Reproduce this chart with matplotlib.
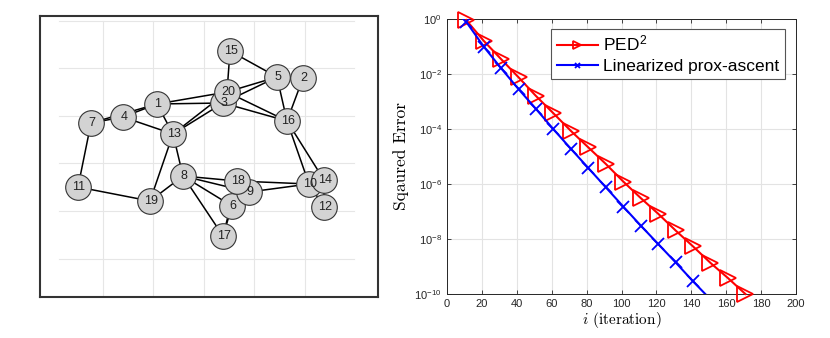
import matplotlib
matplotlib.use("Agg")
import numpy as np
from matplotlib import pyplot as plt

plt.rcParams['font.family'] = ['Liberation Sans', 'DejaVu Sans']
plt.rcParams['mathtext.fontset'] = 'custom'
plt.rcParams['mathtext.rm'] = 'Liberation Sans'
plt.rcParams['mathtext.it'] = 'cmmi10'

# ---- network picture (left) : node positions ----
node_ids = [1, 2, 3, 4, 5, 6, 7, 8, 9, 10, 11, 12, 13, 14, 15, 16, 17, 18, 19, 20]
node_x = [157, 303, 223, 123, 277, 232, 91, 183, 249, 309, 78, 324, 173, 324, 230, 287, 223, 237, 150, 227]
node_y = [104, 78, 103, 117, 77, 206, 123, 176, 192, 184, 187, 207, 134, 180, 51, 121, 236, 181, 201, 92]
edges = [(15, 20), (15, 5), (5, 2), (5, 16), (2, 16), (5, 20), (5, 3),
         (20, 1), (1, 3), (20, 16), (3, 16), (1, 4), (1, 7), (4, 7),
         (1, 13), (4, 13), (3, 13), (20, 13), (7, 11), (11, 19), (13, 19),
         (13, 8), (8, 19), (8, 18), (8, 9), (8, 6), (8, 17), (18, 10),
         (9, 10), (18, 6), (6, 17), (18, 17), (16, 10), (16, 14),
         (10, 12), (14, 12), (10, 14)]

# ---- convergence curves (right) ----
iters = [11, 21, 31, 41, 51, 61, 71, 81, 91, 101, 111, 121, 131, 141, 151, 161, 171]
ped2_log = [-0.04, -0.79, -1.46, -2.12, -2.80, -3.43, -4.07, -4.67, -5.27, -5.91,
            -6.51, -7.08, -7.69, -8.27, -8.87, -9.42, -10.0]
lin_iters = [11, 21, 31, 41, 51, 61, 71, 81, 91, 101, 111, 121, 131, 141, 148]
lin_log = [-0.10, -1.0, -1.79, -2.55, -3.27, -4.01, -4.72, -5.42, -6.12, -6.82,
           -7.51, -8.18, -8.85, -9.54, -10.0]

fig = plt.figure(figsize=(8.3, 3.38), dpi=100)

# left panel, pixel-like coordinates
ax1 = fig.add_axes([40/830, 1-297/338, 338/830, 281/338])
ax1.set_xlim(40, 378)
ax1.set_ylim(297, 16)
for gy in [21, 68, 116, 163, 211, 259]:
    ax1.plot([59, 354], [gy, gy], color='#e6e6e6', lw=0.8, zorder=0)
for gx in [103, 153, 204, 254, 305]:
    ax1.plot([gx, gx], [21, 297], color='#e6e6e6', lw=0.8, zorder=0)
pos = {n: (x, y) for n, x, y in zip(node_ids, node_x, node_y)}
for a, b in edges:
    ax1.plot([pos[a][0], pos[b][0]], [pos[a][1], pos[b][1]], color='black', lw=1.1, zorder=1)
ax1.scatter(node_x, node_y, s=340, color='#d3d3d3', edgecolor='#333333', linewidth=0.8, zorder=2)
for n, x, y in zip(node_ids, node_x, node_y):
    ax1.text(x + 1, y, str(n), ha='center', va='center', fontsize=9, color='#222222', zorder=3)
ax1.set_xticks([])
ax1.set_yticks([])
for s in ax1.spines.values():
    s.set_linewidth(1.5)
    s.set_color('#333333')

# right panel
ax2 = fig.add_axes([447/830, 1-294/338, 349/830, 275/338])
ped2 = [10**v for v in ped2_log]
lin = [10**v for v in lin_log]
ax2.semilogy(iters, ped2, color='red', lw=1.5, marker='>', markersize=12,
             markerfacecolor='none', markeredgewidth=1.3, label='PED$^2$', clip_on=False, zorder=3)
ax2.semilogy(lin_iters, lin, color='blue', lw=1.5, marker='x', markersize=8,
             markeredgewidth=1.3, markevery=list(range(14)), label='Linearized prox-ascent', zorder=3)
ax2.set_xlim(0, 200)
ax2.set_ylim(1e-10, 1)
ax2.set_xticks(range(0, 201, 20))
ax2.set_yticks([1e0, 1e-2, 1e-4, 1e-6, 1e-8, 1e-10])
ax2.set_yticklabels(['$10^{0}$', '$10^{-2}$', '$10^{-4}$', '$10^{-6}$', '$10^{-8}$', '$10^{-10}$'])
ax2.minorticks_off()
ax2.grid(True, color='#e3e3e3', lw=0.8)
ax2.set_axisbelow(True)
ax2.tick_params(direction='in', length=3, labelsize=8, top=True, right=True,
                color='#262626', labelcolor='#262626', width=0.6)
for s in ax2.spines.values():
    s.set_color('#262626')
    s.set_linewidth(0.7)
ax2.set_xlabel('$i$ (iteration)', fontfamily='cmr10', fontsize=11, labelpad=1)
ax2.set_ylabel('Sqaured Error', fontfamily='cmr10', fontsize=12.5, labelpad=4)
leg = ax2.legend(loc='upper right', bbox_to_anchor=(0.968, 0.964), fontsize=12.5, fancybox=False,
                 framealpha=1, edgecolor='#555555', borderpad=0.3, handlelength=2.4,
                 labelspacing=0.25, handletextpad=0.3, markerscale=0.45, borderaxespad=0)
leg.get_frame().set_linewidth(0.8)

fig.savefig('out.png', dpi=100)
